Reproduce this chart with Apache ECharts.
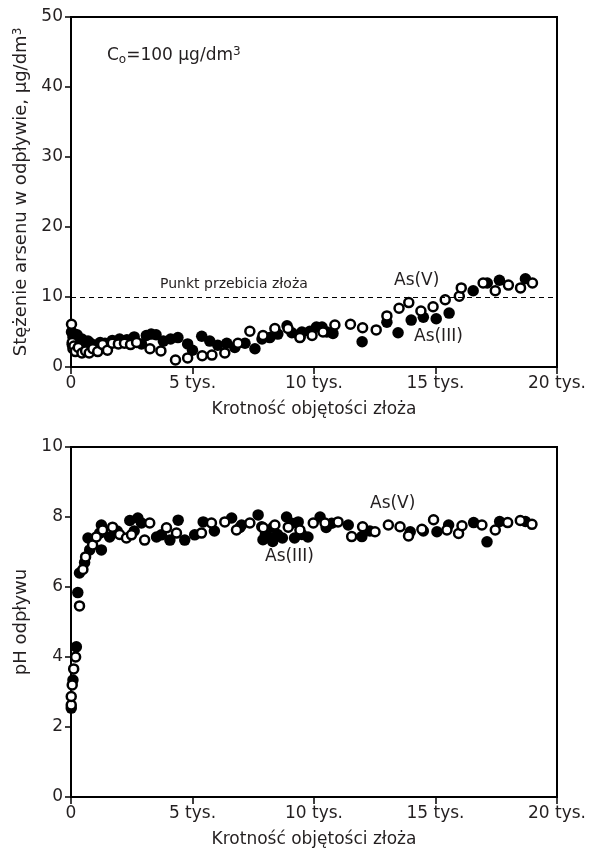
<!DOCTYPE html>
<html><head><meta charset="utf-8">
<script src="https://cdn.jsdelivr.net/npm/echarts@6/dist/echarts.min.js"></script>
<style>html,body{margin:0;padding:0;background:#fff}#c{width:590px;height:851px}</style>
</head><body><div id="c"></div>
<script>
// x values in thousands of bed volumes ("tys.")
const xTicks = [0, 5, 10, 15, 20];
const yTicksTop = [0, 10, 20, 30, 40, 50];
const yTicksBottom = [0, 2, 4, 6, 8, 10];
const breakthrough = 10;

// Top chart: arsenic concentration in effluent, µg/dm3
const asIIIConc = [
 [0.02,5.0],[0.05,3.2],[0.08,4.3],[0.1,4.8],[0.12,3.6],[0.18,4.0],[0.25,4.6],[0.3,3.8],[0.35,3.3],[0.45,4.0],[0.5,3.5],
 [0.6,3.1],[0.7,3.7],[0.8,3.4],[1.0,3.1],[1.2,3.5],[1.4,3.4],[1.7,3.8],[2.0,4.0],[2.3,3.9],[2.6,4.3],[2.9,3.3],
 [3.1,4.5],[3.3,4.7],[3.5,4.6],[3.8,3.7],[4.1,4.0],[4.4,4.2],[4.8,3.3],[5.0,2.4],[5.38,4.4],[5.71,3.7],[6.04,3.1],
 [6.41,3.4],[6.74,2.8],[7.16,3.4],[7.57,2.6],[7.86,4.0],[8.18,4.2],[8.51,4.7],[8.89,5.9],[9.09,4.9],[9.43,4.3],
 [9.5,5.0],[9.83,5.1],[10.1,5.7],[10.33,5.7],[10.53,5.0],[10.78,4.8],[11.98,3.6],[13.0,6.4],[13.46,4.9],[14.0,6.7],
 [14.5,7.1],[15.03,6.9],[15.56,7.7],[16.55,10.9],[17.13,12.0],[17.63,12.4],[18.7,12.6]
];
const asVConc = [
 [0.02,6.1],[0.05,3.5],[0.08,2.6],[0.12,3.0],[0.18,2.2],[0.3,2.8],[0.45,2.0],[0.6,2.3],[0.75,2.0],[0.9,2.6],
 [1.1,2.2],[1.3,3.2],[1.5,2.4],[1.7,3.4],[1.95,3.3],[2.2,3.4],[2.45,3.2],[2.7,3.5],[3.25,2.6],[3.7,2.3],[4.3,1.0],
 [4.8,1.3],[5.4,1.6],[5.8,1.7],[6.33,2.0],[6.87,3.4],[7.36,5.1],[7.9,4.5],[8.39,5.5],[8.93,5.5],[9.42,4.2],
 [9.92,4.5],[10.37,5.0],[10.86,6.0],[11.5,6.1],[12.0,5.6],[12.56,5.3],[13.0,7.3],[13.5,8.4],[13.9,9.2],[14.4,8.0],
 [14.9,8.6],[15.4,9.6],[15.98,10.1],[16.06,11.3],[16.96,12.0],[17.46,10.9],[18.0,11.7],[18.5,11.3],[18.99,12.0]
];

// Bottom chart: effluent pH
const asIIIpH = [
 [0.01,2.54],[0.08,3.34],[0.22,4.29],[0.28,5.84],[0.35,6.4],[0.56,6.7],[0.77,7.06],[0.7,7.4],[1.18,7.54],[1.25,7.77],
 [1.25,7.06],[1.59,7.43],[1.9,7.6],[2.42,7.9],[2.6,7.6],[2.75,7.97],[2.9,7.83],[3.52,7.43],[3.72,7.49],[4.07,7.34],
 [4.41,7.91],[4.68,7.34],[5.09,7.49],[5.44,7.86],[5.9,7.6],[6.61,7.97],[6.95,7.7],[7.02,7.77],[7.7,8.06],[7.85,7.72],
 [7.9,7.35],[8.0,7.5],[8.1,7.45],[8.3,7.3],[8.32,7.71],[8.5,7.5],[8.7,7.4],[8.87,8.0],[9.08,7.82],[9.2,7.4],[9.35,7.86],[9.5,7.5],
 [9.75,7.43],[10.25,8.0],[10.5,7.7],[10.73,7.82],[11.41,7.77],[11.97,7.44],[12.3,7.6],[13.96,7.58],[14.5,7.6],
 [15.06,7.58],[15.54,7.77],[16.57,7.84],[17.12,7.29],[17.64,7.87],[18.7,7.87]
];
const asVpH = [
 [0.01,2.63],[0.01,2.87],[0.05,3.2],[0.11,3.66],[0.19,4.0],[0.35,5.46],[0.49,6.5],[0.6,6.86],[0.89,7.2],[1.04,7.43],
 [1.3,7.63],[1.71,7.71],[2.0,7.5],[2.28,7.4],[2.49,7.49],[3.03,7.34],[3.24,7.83],[3.93,7.69],[4.34,7.54],[5.37,7.54],
 [5.78,7.83],[6.33,7.86],[6.81,7.63],[7.36,7.83],[7.91,7.69],[8.39,7.77],[8.94,7.71],[9.42,7.63],[9.97,7.83],
 [10.45,7.83],[10.99,7.86],[11.55,7.44],[12.0,7.72],[12.51,7.58],[13.06,7.77],[13.54,7.72],[13.89,7.46],[14.44,7.65],
 [14.92,7.92],[15.47,7.63],[15.95,7.53],[16.09,7.75],[16.91,7.77],[17.46,7.63],[17.97,7.84],[18.49,7.9],[18.97,7.79]
];

const FONT = "'DejaVu Sans', 'Liberation Sans', Arial, sans-serif";
const FS = 17;
const TXT = '#231f20';
const xName = 'Krotność objętości złoża';
const fmtX = v => v === 0 ? '0' : v + ' tys.';

function xAxis(gi) {
  return {
    gridIndex: gi, type: 'value', min: xTicks[0], max: xTicks[xTicks.length-1], interval: xTicks[1]-xTicks[0],
    name: xName, nameLocation: 'middle', nameGap: 34,
    nameTextStyle: { fontFamily: FONT, fontSize: FS, color: TXT },
    axisLine: { lineStyle: { color: '#000', width: 2 } },
    axisTick: { show: true, length: 7, lineStyle: { color: '#000', width: 1.5 } },
    axisLabel: { fontFamily: FONT, fontSize: FS, color: TXT, margin: 8, formatter: fmtX },
    splitLine: { show: false }
  };
}
function yAxis(gi, ticks, name) {
  return {
    gridIndex: gi, type: 'value', min: ticks[0], max: ticks[ticks.length-1], interval: ticks[1]-ticks[0],
    name: name, nameLocation: 'middle', nameGap: 39,
    nameTextStyle: { fontFamily: FONT, fontSize: 18, color: TXT,
      rich: { s: { fontFamily: FONT, fontSize: 12, color: TXT, padding: [0,0,8,0] } } },
    axisLine: { lineStyle: { color: '#000', width: 2 } },
    axisTick: { show: true, length: 6, lineStyle: { color: '#000', width: 1.5 } },
    axisLabel: { fontFamily: FONT, fontSize: FS, color: TXT, margin: 8 },
    splitLine: { show: false }
  };
}
const solid = { color: '#000', borderColor: '#000', borderWidth: 0, opacity: 1 };
const open = { color: '#fff', borderColor: '#000', borderWidth: 2.5, opacity: 1 };

const chart = echarts.init(document.getElementById('c'), null, { renderer: 'canvas' });
chart.setOption({
  animation: false,
  backgroundColor: '#fff',
  grid: [
    { left: 71, top: 17, width: 486, height: 350, show: true, borderColor: '#000', borderWidth: 2, backgroundColor: 'transparent' },
    { left: 71, top: 447, width: 486, height: 350, show: true, borderColor: '#000', borderWidth: 2, backgroundColor: 'transparent' }
  ],
  xAxis: [xAxis(0), xAxis(1)],
  yAxis: [
    yAxis(0, yTicksTop, 'Stężenie arsenu w odpływie, μg/dm{s|3}'),
    yAxis(1, yTicksBottom, 'pH odpływu')
  ],
  series: [
    { type: 'scatter', xAxisIndex: 0, yAxisIndex: 0, data: asIIIConc, symbolSize: 11.5, itemStyle: solid,
      markLine: { silent: true, symbol: 'none', label: { show: false },
        lineStyle: { color: '#000', type: [5, 4], width: 1 }, data: [{ yAxis: breakthrough }] } },
    { type: 'scatter', xAxisIndex: 0, yAxisIndex: 0, data: asVConc, symbolSize: 9, itemStyle: open },
    { type: 'scatter', xAxisIndex: 1, yAxisIndex: 1, data: asIIIpH, symbolSize: 11.5, itemStyle: solid },
    { type: 'scatter', xAxisIndex: 1, yAxisIndex: 1, data: asVpH, symbolSize: 9, itemStyle: open }
  ],
  graphic: [
    { type: 'text', left: 107, top: 46, style: { text: '{b|C}{sub|o}{b|=100 μg/dm}{sup|3}', fontFamily: FONT,
      rich: { b: { fontSize: FS, fontFamily: FONT, fill: TXT, lineHeight: 22 },
              sub: { fontSize: 12, fontFamily: FONT, fill: TXT, padding: [8,0,0,0], lineHeight: 22 },
              sup: { fontSize: 12, fontFamily: FONT, fill: TXT, padding: [0,0,8,0], lineHeight: 22 } } } },
    { type: 'text', left: 160, top: 277, style: { text: 'Punkt przebicia złoża', fontFamily: FONT, fontSize: 14, fill: TXT } },
    { type: 'text', left: 394, top: 272, style: { text: 'As(V)', fontFamily: FONT, fontSize: FS, fill: TXT } },
    { type: 'text', left: 414, top: 328, style: { text: 'As(III)', fontFamily: FONT, fontSize: FS, fill: TXT } },
    { type: 'text', left: 370, top: 495, style: { text: 'As(V)', fontFamily: FONT, fontSize: FS, fill: TXT } },
    { type: 'text', left: 265, top: 548, style: { text: 'As(III)', fontFamily: FONT, fontSize: FS, fill: TXT } }
  ]
});
</script></body></html>
